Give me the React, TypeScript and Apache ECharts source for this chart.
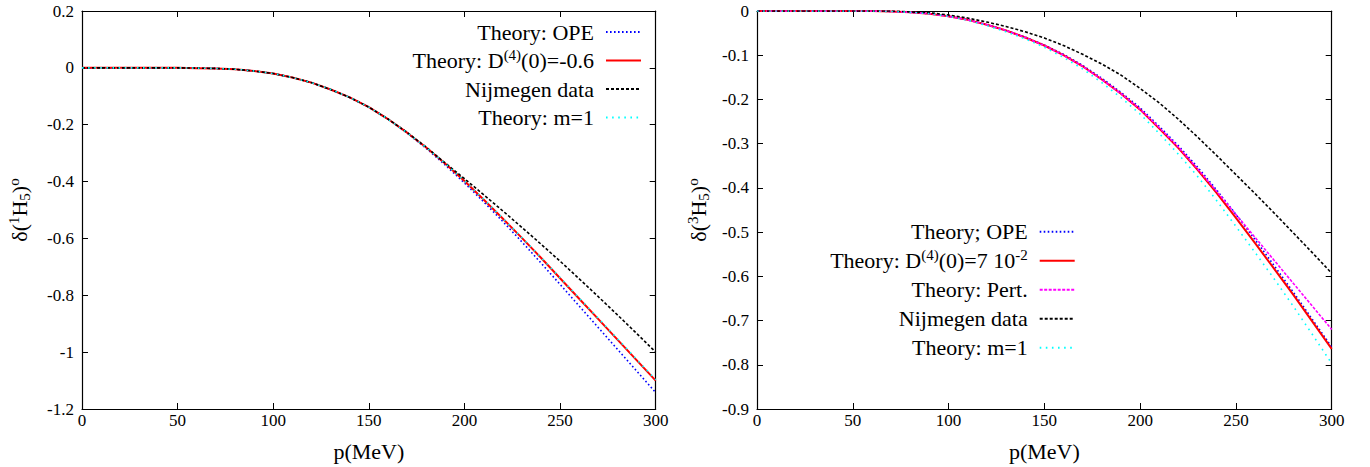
import React, { useEffect, useRef } from "react";
import * as echarts from "echarts";

// momentum p (MeV)
const pValues = [0, 10, 20, 30, 40, 50, 60, 70, 80, 90, 100, 110, 120, 130, 140, 150, 160, 170, 180, 190, 200, 210, 220, 230, 240, 250, 260, 270, 280, 290, 300];

// Left panel: delta(1H5)
const leftOPE = [0, 0, 0, 0, 0, 0, -0.001, -0.002, -0.005, -0.011, -0.02, -0.034, -0.052, -0.076, -0.104, -0.138, -0.18, -0.229, -0.283, -0.342, -0.405, -0.471, -0.54, -0.612, -0.686, -0.762, -0.838, -0.914, -0.99, -1.066, -1.142];
const leftD4 = [0, 0, 0, 0, 0, 0, -0.001, -0.002, -0.005, -0.011, -0.02, -0.034, -0.052, -0.076, -0.104, -0.138, -0.18, -0.228, -0.28, -0.337, -0.398, -0.463, -0.53, -0.598, -0.668, -0.74, -0.812, -0.884, -0.956, -1.028, -1.1];
const leftNijmegen = [0, 0, 0, 0, 0, 0, -0.001, -0.002, -0.005, -0.011, -0.02, -0.034, -0.052, -0.076, -0.104, -0.138, -0.18, -0.227, -0.279, -0.335, -0.39, -0.446, -0.503, -0.561, -0.62, -0.68, -0.742, -0.805, -0.869, -0.934, -1.0];
const leftM1 = [0, 0, 0, 0, 0, 0, -0.001, -0.002, -0.005, -0.011, -0.02, -0.034, -0.052, -0.076, -0.104, -0.138, -0.18, -0.228, -0.28, -0.337, -0.398, -0.462, -0.529, -0.597, -0.667, -0.738, -0.81, -0.881, -0.953, -1.025, -1.097];

// Right panel: delta(3H5)
const rightOPE = [0, 0, 0, 0, 0, 0, 0, -0.001, -0.003, -0.006, -0.012, -0.02, -0.031, -0.044, -0.059, -0.077, -0.098, -0.123, -0.152, -0.184, -0.219, -0.261, -0.305, -0.353, -0.405, -0.46, -0.517, -0.576, -0.636, -0.698, -0.76];
const rightD4 = [0, 0, 0, 0, 0, 0, 0, -0.001, -0.003, -0.006, -0.012, -0.02, -0.031, -0.044, -0.06, -0.078, -0.1, -0.125, -0.155, -0.187, -0.223, -0.266, -0.31, -0.359, -0.412, -0.468, -0.525, -0.583, -0.642, -0.703, -0.764];
const rightPert = [0, 0, 0, 0, 0, 0, 0, -0.001, -0.003, -0.006, -0.012, -0.02, -0.031, -0.044, -0.06, -0.078, -0.1, -0.125, -0.155, -0.187, -0.222, -0.264, -0.308, -0.357, -0.408, -0.46, -0.512, -0.564, -0.616, -0.668, -0.72];
const rightNijmegen = [0, 0, 0, 0, 0, 0, 0, 0, -0.002, -0.004, -0.009, -0.016, -0.025, -0.035, -0.047, -0.061, -0.078, -0.098, -0.12, -0.145, -0.175, -0.208, -0.245, -0.285, -0.327, -0.37, -0.413, -0.457, -0.502, -0.547, -0.593];
const rightM1 = [0, 0, 0, 0, 0, 0, 0, -0.001, -0.003, -0.006, -0.012, -0.021, -0.033, -0.047, -0.063, -0.082, -0.105, -0.131, -0.162, -0.196, -0.233, -0.277, -0.324, -0.374, -0.429, -0.487, -0.546, -0.606, -0.668, -0.732, -0.797];

const xTicks = { min: 0, max: 300, interval: 50 };
const leftYTicks = { min: -1.2, max: 0.2, interval: 0.2 };
const rightYTicks = { min: -0.9, max: 0, interval: 0.1 };

const FONT = "Liberation Serif";

const nameRich = {
  sup: { fontSize: 15, fontFamily: FONT, color: "#000", padding: [0, 0, 12, 0] },
  sub: { fontSize: 15, fontFamily: FONT, color: "#000", padding: [10, 0, 0, 0] },
};

const STYLES: Record<string, any> = {
  blue: { color: "#0000ff", width: 1.6, type: [1.6, 2.4] },
  red: { color: "#ff0000", width: 2, type: "solid" },
  black: { color: "#000000", width: 1.6, type: [3, 2] },
  cyan: { color: "#00ffff", width: 1.6, type: [1.6, 4.5] },
  magenta: { color: "#ff00ff", width: 1.6, type: [3, 1.5] },
};

function pairs(ys: number[]) {
  return pValues.map((p, i) => [p, ys[i]]);
}

function makeSeries(name: string, ys: number[], style: string) {
  const s = STYLES[style];
  return {
    type: "line",
    name,
    data: pairs(ys),
    symbol: "none",
    showSymbol: false,
    color: s.color,
    lineStyle: { color: s.color, width: s.width, type: s.type },
    itemStyle: { color: s.color },
    emphasis: { disabled: true },
    z: 2,
  };
}

function buildOption(opts: {
  gridLeft: number;
  gridWidth: number;
  yTicks: { min: number; max: number; interval: number };
  yName: string;
  yNameGap: number;
  series: any[];
  legendNames: string[];
  legendFormat: Record<string, string>;
  legendRight: number;
  legendTop: number;
  lineHeight: number;
}) {
  const axisLine = { show: true, onZero: false, lineStyle: { color: "#000", width: 1.2 } };
  const tick = { show: true, inside: true, length: 6, lineStyle: { color: "#000", width: 1 } };
  const label = { fontFamily: FONT, fontSize: 17, color: "#000" };
  return {
    animation: false,
    backgroundColor: "#fff",
    grid: {
      left: opts.gridLeft,
      top: 11,
      width: opts.gridWidth,
      height: 398,
      containLabel: false,
      outerBoundsMode: "none",
    },
    legend: {
      show: true,
      orient: "vertical",
      right: opts.legendRight,
      top: opts.legendTop,
      align: "right",
      itemWidth: 35,
      itemHeight: 10,
      itemGap: 0,
      padding: 0,
      selectedMode: false,
      data: opts.legendNames,
      itemStyle: { opacity: 0 },
      formatter: (n: string) => opts.legendFormat[n] || n,
      textStyle: {
        fontFamily: FONT,
        fontSize: 22,
        color: "#000",
        lineHeight: opts.lineHeight,
        padding: [0, 7, 0, 0],
        rich: {
          sup: { fontSize: 15, fontFamily: FONT, color: "#000", lineHeight: opts.lineHeight, padding: [0, 0, 12, 0] },
        },
      },
    },
    xAxis: [
      {
        type: "value",
        position: "bottom",
        ...xTicks,
        name: "p(MeV)",
        nameLocation: "middle",
        nameGap: 31,
        nameTextStyle: { fontFamily: FONT, fontSize: 22, color: "#000" },
        axisLine,
        axisTick: tick,
        axisLabel: { ...label, margin: 3 },
        splitLine: { show: false },
      },
      {
        type: "value",
        position: "top",
        ...xTicks,
        axisLine,
        axisTick: tick,
        axisLabel: { show: false },
        splitLine: { show: false },
      },
    ],
    yAxis: [
      {
        type: "value",
        position: "left",
        ...opts.yTicks,
        name: opts.yName,
        nameLocation: "middle",
        nameRotate: 90,
        nameGap: opts.yNameGap,
        nameTextStyle: { fontFamily: FONT, fontSize: 22, color: "#000", rich: nameRich },
        axisLine,
        axisTick: tick,
        axisLabel: { ...label, margin: 8 },
        splitLine: { show: false },
      },
      {
        type: "value",
        position: "right",
        ...opts.yTicks,
        axisLine,
        axisTick: tick,
        axisLabel: { show: false },
        splitLine: { show: false },
      },
    ],
    series: opts.series,
  };
}

const leftNames = ["Theory: OPE", "Theory: D(4)(0)=-0.6", "Nijmegen data", "Theory: m=1"];
const rightNames = ["Theory; OPE", "Theory: D(4)(0)=7 10-2", "Theory: Pert.", "Nijmegen data", "Theory: m=1"];

function Panel(props: { left: number; width: number; option: any }) {
  const ref = useRef<HTMLDivElement>(null);
  useEffect(() => {
    if (!ref.current) return;
    const chart = echarts.init(ref.current, undefined, { renderer: "svg" });
    chart.setOption(props.option);
    return () => chart.dispose();
  }, []);
  return (
    <div
      ref={ref}
      style={{ position: "fixed", left: props.left, top: 0, width: props.width, height: 467 }}
    />
  );
}

export default function App() {
  const leftOption = buildOption({
    gridLeft: 82,
    gridWidth: 573.7,
    yTicks: leftYTicks,
    yName: "δ({sup|1}H{sub|5}){sup|o}",
    yNameGap: 49,
    series: [
      makeSeries(leftNames[0], leftOPE, "blue"),
      makeSeries(leftNames[1], leftD4, "red"),
      makeSeries(leftNames[2], leftNijmegen, "black"),
      makeSeries(leftNames[3], leftM1, "cyan"),
    ],
    legendNames: leftNames,
    legendFormat: {
      "Theory: D(4)(0)=-0.6": "Theory: D{sup|(4)}(0)=-0.6",
    },
    legendRight: 43,
    legendTop: 17.75,
    lineHeight: 28.5,
  });
  const rightOption = buildOption({
    gridLeft: 72,
    gridWidth: 574.7,
    yTicks: rightYTicks,
    yName: "δ({sup|3}H{sub|5}){sup|o}",
    yNameGap: 44,
    series: [
      makeSeries(rightNames[0], rightOPE, "blue"),
      makeSeries(rightNames[1], rightD4, "red"),
      makeSeries(rightNames[2], rightPert, "magenta"),
      makeSeries(rightNames[3], rightNijmegen, "black"),
      makeSeries(rightNames[4], rightM1, "cyan"),
    ],
    legendNames: rightNames,
    legendFormat: {
      "Theory: D(4)(0)=7 10-2": "Theory: D{sup|(4)}(0)=7 10{sup|-2}",
    },
    legendRight: 294.3,
    legendTop: 217.2,
    lineHeight: 29,
  });
  return (
    <div>
      <Panel left={0} width={685} option={leftOption} />
      <Panel left={685} width={685} option={rightOption} />
    </div>
  );
}
